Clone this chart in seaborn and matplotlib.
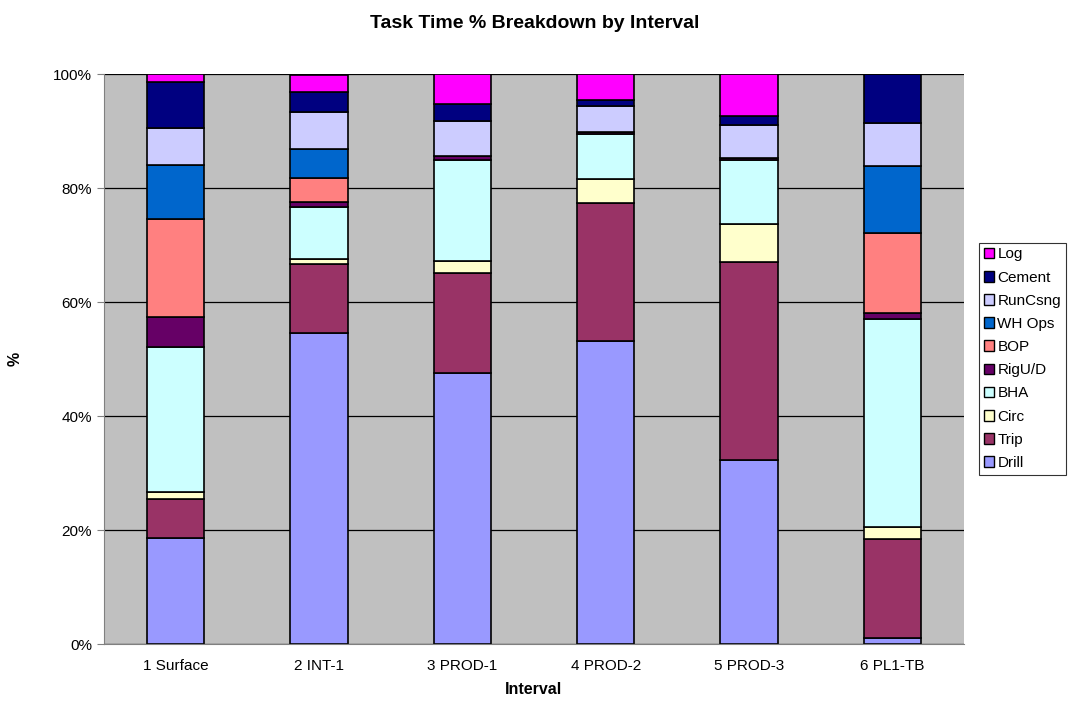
import numpy as np
import pandas as pd
import matplotlib
matplotlib.use("Agg")
import matplotlib.pyplot as plt
from matplotlib.patches import Patch
from matplotlib.ticker import PercentFormatter
import seaborn as sns

# intervals and task-time shares (%)
intervals = ["1 Surface", "2 INT-1", "3 PROD-1", "4 PROD-2", "5 PROD-3", "6 PL1-TB"]
tasks = ["Drill", "Trip", "Circ", "BHA", "RigU/D", "BOP", "WH Ops", "RunCsng", "Cement", "Log"]

drill = [18.6, 54.6, 47.5, 53.2, 32.3, 1.1]
trip = [6.8, 12.1, 17.6, 24.2, 34.8, 17.3]
circ = [1.3, 0.8, 2.1, 4.2, 6.6, 2.1]
bha = [25.4, 9.1, 17.7, 7.9, 11.2, 36.5]
rigud = [5.3, 0.9, 0.8, 0.3, 0.3, 1.1]
bop = [17.2, 4.2, 0.0, 0.0, 0.0, 14.0]
wh_ops = [9.4, 5.2, 0.0, 0.0, 0.0, 11.8]
runcsng = [6.6, 6.5, 6.0, 4.6, 5.8, 7.5]
cement = [8.0, 3.4, 3.0, 1.0, 1.6, 8.6]
log = [1.4, 3.1, 5.3, 4.6, 7.4, 0.0]

values = [drill, trip, circ, bha, rigud, bop, wh_ops, runcsng, cement, log]
colors = ["#9999FF", "#993366", "#FFFFCC", "#CCFFFF", "#660066",
          "#FF8080", "#0066CC", "#CCCCFF", "#000080", "#FF00FF"]

df = pd.DataFrame({"Interval": np.repeat(intervals, len(tasks)),
                   "Task": tasks * len(intervals),
                   "pct": np.array(values).T.ravel()})

sns.set_style("white")
plt.rcParams["font.family"] = ["Liberation Sans", "DejaVu Sans"]
plt.rcParams.update({"text.color": "black", "axes.labelcolor": "black",
                     "xtick.color": "black", "ytick.color": "black"})

fig = plt.figure(figsize=(10.7, 7.02), dpi=100)
ax = fig.add_axes([104 / 1070, 58 / 702, 860 / 1070, 570 / 702])
ax.set_facecolor("#C0C0C0")

bottom = np.zeros(len(intervals))
for task, col in zip(tasks, colors):
    sub = df[df["Task"] == task]
    sns.barplot(data=sub, x="Interval", y="pct", order=intervals, bottom=bottom,
                color=col, edgecolor="black", linewidth=1.2, width=0.4,
                saturation=1, errorbar=None, ax=ax)
    bottom = bottom + sub["pct"].values

ax.set_ylim(0, 100)
ax.set_xlim(-0.5, len(intervals) - 0.5)
ax.set_yticks(np.arange(0, 101, 20))
ax.yaxis.set_major_formatter(PercentFormatter(decimals=0))
ax.yaxis.grid(True, color="black", linewidth=0.9)
ax.set_axisbelow(True)
for s in ["top", "right"]:
    ax.spines[s].set_visible(False)
ax.spines["left"].set_color("#808080")
ax.spines["bottom"].set_color("#808080")
ax.tick_params(axis="y", left=True, length=5, color="#808080", labelcolor="black", labelsize=11)
ax.tick_params(axis="x", bottom=False, labelcolor="black", labelsize=11, pad=7)

ax.set_xlabel("Interval", fontsize=11.5, fontweight="bold", labelpad=7)
ax.set_ylabel("%", fontsize=11.5, fontweight="bold", labelpad=22)
fig.suptitle("Task Time % Breakdown by Interval", fontsize=14, fontweight="bold", y=0.978)

handles = [Patch(facecolor=c, edgecolor="black", label=t) for t, c in zip(tasks, colors)]
leg = fig.legend(handles=handles[::-1], loc="center left", bbox_to_anchor=(979 / 1070, 0.489),
                 frameon=True, fancybox=False, edgecolor="black", fontsize=11,
                 handlelength=0.7, handleheight=0.7, handletextpad=0.2,
                 labelspacing=0.6, borderpad=0.3, borderaxespad=0)
leg.get_frame().set_linewidth(0.8)

plt.savefig("out.png", dpi=100)
